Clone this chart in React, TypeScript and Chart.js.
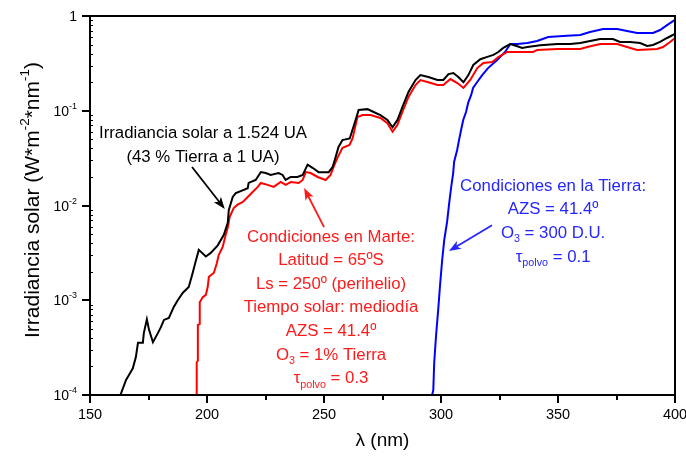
import React, { useEffect, useRef } from 'react';
import { Chart, registerables } from 'chart.js';

Chart.register(...registerables);

// ---- Data: [wavelength (nm), irradiance (W m^-2 nm^-1)] ----
const solarAt1524AU: [number, number][] = [
  [163.0, 1.0e-4], [165.4, 1.44e-4], [166.6, 1.62e-4], [168.3, 1.91e-4], [169.6, 2.51e-4],
  [170.5, 3.55e-4], [172.6, 3.55e-4], [173.0, 4.5e-4], [174.3, 6.3e-4], [175.2, 4.9e-4],
  [176.9, 3.6e-4], [179.0, 4.5e-4], [180.3, 5.2e-4], [181.6, 6.2e-4], [183.7, 6.5e-4],
  [185.8, 8.5e-4], [187.5, 1.0e-3], [189.7, 1.2e-3], [192.2, 1.38e-3], [193.9, 1.95e-3],
  [195.2, 2.6e-3], [196.5, 3.4e-3], [199.5, 2.9e-3], [201.6, 3.16e-3], [204.6, 3.8e-3],
  [207.2, 4.9e-3], [208.9, 6.6e-3], [209.3, 8.9e-3], [211.0, 1.23e-2], [212.3, 1.35e-2],
  [214.4, 1.42e-2], [217.4, 1.52e-2], [217.8, 1.73e-2], [220.8, 1.86e-2], [223.0, 2.25e-2],
  [225.1, 2.2e-2], [227.2, 2.1e-2], [230.6, 2.2e-2], [232.3, 2.1e-2], [233.6, 1.86e-2],
  [235.8, 2.0e-2], [238.7, 2.0e-2], [240.9, 2.1e-2], [243.0, 2.7e-2], [245.1, 2.5e-2],
  [247.7, 2.25e-2], [252.0, 2.25e-2], [253.7, 2.55e-2], [254.9, 3.2e-2], [256.2, 4.15e-2],
  [257.9, 4.9e-2], [261.0, 5.1e-2], [263.5, 7.96e-2], [264.8, 0.102], [268.6, 0.104],
  [271.2, 0.097], [274.1, 0.090], [277.1, 0.080], [279.3, 0.067], [281.4, 0.080],
  [283.5, 0.109], [286.1, 0.158], [289.1, 0.211], [291.2, 0.238], [294.6, 0.227],
  [298.5, 0.211], [301.0, 0.211], [303.2, 0.244], [305.3, 0.25], [307.4, 0.227],
  [309.6, 0.20], [311.7, 0.238], [313.8, 0.304], [316.8, 0.35], [319.8, 0.37],
  [322.4, 0.388], [324.5, 0.417], [326.6, 0.46], [329.6, 0.506], [332.6, 0.48],
  [334.7, 0.46], [336.9, 0.47], [342.4, 0.49], [349.7, 0.506], [355.2, 0.506],
  [359.5, 0.519], [363.7, 0.545], [368.0, 0.572], [373.5, 0.572], [376.5, 0.532],
  [380.8, 0.532], [385.1, 0.519], [388.1, 0.482], [390.6, 0.494], [393.6, 0.532],
  [396.6, 0.586], [399.1, 0.63], [400.0, 0.65],
];

const marsSurface: [number, number][] = [
  [195.6, 1.0e-4], [195.6, 2.2e-4], [196.1, 2.3e-4], [196.1, 5.5e-4], [196.9, 5.6e-4],
  [196.9, 9.5e-4], [198.2, 1.08e-3], [199.5, 1.14e-3], [200.3, 1.38e-3], [200.8, 1.77e-3],
  [202.9, 1.94e-3], [204.2, 2.46e-3], [205.0, 3.0e-3], [206.7, 3.65e-3], [208.0, 4.9e-3],
  [208.9, 5.9e-3], [209.7, 7.6e-3], [211.4, 9.4e-3], [213.1, 1.02e-2], [215.3, 1.09e-2],
  [217.4, 1.23e-2], [219.5, 1.39e-2], [221.7, 1.57e-2], [223.0, 1.73e-2], [225.9, 1.65e-2],
  [228.5, 1.57e-2], [231.5, 1.77e-2], [233.6, 1.65e-2], [235.8, 1.77e-2], [239.2, 1.73e-2],
  [240.9, 1.86e-2], [242.2, 2.25e-2], [244.3, 2.2e-2], [247.3, 2.0e-2], [250.7, 1.86e-2],
  [252.8, 2.1e-2], [254.1, 2.55e-2], [255.8, 3.2e-2], [257.9, 4.06e-2], [260.9, 4.35e-2],
  [262.2, 5.1e-2], [264.3, 0.086], [266.5, 0.090], [269.9, 0.090], [274.1, 0.084],
  [277.1, 0.074], [279.3, 0.060], [281.4, 0.071], [283.5, 0.097], [286.1, 0.14],
  [289.1, 0.187], [291.2, 0.211], [294.6, 0.20], [298.5, 0.187], [301.0, 0.187],
  [304.0, 0.216], [307.0, 0.196], [309.6, 0.174], [312.5, 0.211], [315.5, 0.282],
  [318.1, 0.319], [321.9, 0.327], [324.5, 0.369], [328.3, 0.417], [332.6, 0.417],
  [339.4, 0.417], [341.1, 0.438], [349.7, 0.449], [359.5, 0.449], [362.5, 0.471],
  [368.0, 0.506], [375.3, 0.506], [379.5, 0.471], [383.8, 0.438], [392.3, 0.449],
  [394.9, 0.471], [397.9, 0.532], [400.0, 0.586],
];

const earthSurface: [number, number][] = [
  [296.2, 1.0e-4], [296.7, 1.12e-4], [297.1, 2.2e-4], [297.9, 4.3e-4], [298.8, 7.9e-4],
  [299.6, 1.45e-3], [300.5, 2.66e-3], [301.4, 4.35e-3], [302.6, 6.7e-3], [303.5, 1.06e-2],
  [304.3, 1.53e-2], [305.2, 2.2e-2], [305.6, 2.88e-2], [306.9, 3.85e-2], [307.7, 4.9e-2],
  [308.6, 0.063], [309.5, 0.080], [310.7, 0.097], [311.6, 0.121], [312.9, 0.147],
  [313.7, 0.174], [315.4, 0.20], [317.6, 0.238], [320.1, 0.282], [324.0, 0.343],
  [327.4, 0.417], [329.6, 0.506], [332.6, 0.506], [336.9, 0.519], [341.1, 0.545],
  [345.8, 0.60], [352.2, 0.615], [359.5, 0.63], [363.7, 0.678], [369.3, 0.729],
  [375.3, 0.729], [379.5, 0.695], [383.8, 0.662], [390.6, 0.662], [393.6, 0.711],
  [396.6, 0.80], [400.0, 0.91],
];

const xMajorTicks = [150, 200, 250, 300, 350, 400];
const xMinorTicks = [175, 225, 275, 325, 375];
const yTickValues = [1, 1e-1, 1e-2, 1e-3, 1e-4];
const yTickLabels = ['1', '10^-1', '10^-2', '10^-3', '10^-4'];

const FONT = '"Liberation Sans", Arial, Helvetica, sans-serif';

type Seg = { t: string; s?: 'sub' | 'sup' };

const annotations: {
  color: string;
  x: number;
  y: number;
  gap: number;
  lines: Seg[][];
  arrow: { from: [number, number]; to: [number, number] };
}[] = [
  {
    color: '#000000',
    x: 198.3,
    y: 0.058,
    gap: 24,
    lines: [[{ t: 'Irradiancia solar a 1.524 UA' }], [{ t: '(43 % Tierra a 1 UA)' }]],
    arrow: { from: [193.6, 0.0255], to: [207.6, 0.0092] },
  },
  {
    color: '#ff1a1a',
    x: 253.0,
    y: 0.00465,
    gap: 23.6,
    lines: [
      [{ t: 'Condiciones en Marte:' }],
      [{ t: 'Latitud = 65ºS' }],
      [{ t: 'Ls = 250º (perihelio)' }],
      [{ t: 'Tiempo solar: mediodía' }],
      [{ t: 'AZS = 41.4º' }],
      [{ t: 'O' }, { t: '3', s: 'sub' }, { t: ' = 1% Tierra' }],
      [{ t: 'τ' }, { t: 'polvo', s: 'sub' }, { t: ' = 0.3' }],
    ],
    arrow: { from: [250.0, 0.0059], to: [241.5, 0.0153] },
  },
  {
    color: '#2626ff',
    x: 347.9,
    y: 0.0161,
    gap: 23.7,
    lines: [
      [{ t: 'Condiciones en la Tierra:' }],
      [{ t: 'AZS = 41.4º' }],
      [{ t: 'O' }, { t: '3', s: 'sub' }, { t: ' = 300 D.U.' }],
      [{ t: 'τ' }, { t: 'polvo', s: 'sub' }, { t: ' = 0.1' }],
    ],
    arrow: { from: [321.8, 0.0062], to: [303.4, 0.0033] },
  },
];

function drawRich(
  ctx: CanvasRenderingContext2D,
  segs: Seg[],
  x0: number,
  cy: number,
  size: number,
  color: string,
  align: 'center' | 'right' | 'left'
) {
  let w = 0;
  const parts = segs.map((seg) => {
    const fs = seg.s ? size * 0.64 : size;
    ctx.font = `${fs}px ${FONT}`;
    const mw = ctx.measureText(seg.t).width;
    w += mw;
    return { seg, fs, mw };
  });
  let x = align === 'center' ? x0 - w / 2 : align === 'right' ? x0 - w : x0;
  ctx.fillStyle = color;
  ctx.textBaseline = 'middle';
  ctx.textAlign = 'left';
  for (const p of parts) {
    ctx.font = `${p.fs}px ${FONT}`;
    const dy = p.seg.s === 'sub' ? size * 0.36 : p.seg.s === 'sup' ? -size * 0.38 : 0;
    ctx.fillText(p.seg.t, x, cy + dy);
    x += p.mw;
  }
}

function drawArrow(ctx: CanvasRenderingContext2D, x1: number, y1: number, x2: number, y2: number, color: string) {
  const ang = Math.atan2(y2 - y1, x2 - x1);
  const hl = 12;
  const hw = 4.5;
  const c = Math.cos(ang);
  const s = Math.sin(ang);
  ctx.strokeStyle = color;
  ctx.fillStyle = color;
  ctx.lineWidth = 1.8;
  ctx.beginPath();
  ctx.moveTo(x1, y1);
  ctx.lineTo(x2 - hl * 0.7 * c, y2 - hl * 0.7 * s);
  ctx.stroke();
  ctx.beginPath();
  ctx.moveTo(x2, y2);
  ctx.lineTo(x2 - hl * c + hw * s, y2 - hl * s - hw * c);
  ctx.lineTo(x2 - hl * 0.75 * c, y2 - hl * 0.75 * s);
  ctx.lineTo(x2 - hl * c - hw * s, y2 - hl * s + hw * c);
  ctx.closePath();
  ctx.fill();
}

function parseTickLabel(label: string): Seg[] {
  const i = label.indexOf('^');
  if (i < 0) return [{ t: label }];
  return [{ t: label.slice(0, i) }, { t: label.slice(i + 1), s: 'sup' }];
}

const overlayPlugin = {
  id: 'overlay',
  afterDraw(chart: any) {
    const { ctx, chartArea: a } = chart;
    const xs = chart.scales.x;
    const ys = chart.scales.y;
    ctx.save();

    // frame
    ctx.strokeStyle = '#000';
    ctx.lineWidth = 2;
    ctx.strokeRect(a.left, a.top, a.right - a.left, a.bottom - a.top);

    // x ticks (outward)
    ctx.lineWidth = 2;
    for (const v of xMajorTicks) {
      const px = Math.round(xs.getPixelForValue(v));
      ctx.beginPath();
      ctx.moveTo(px, a.bottom);
      ctx.lineTo(px, a.bottom + 8);
      ctx.stroke();
    }
    for (const v of xMinorTicks) {
      const px = Math.round(xs.getPixelForValue(v));
      ctx.beginPath();
      ctx.moveTo(px, a.bottom);
      ctx.lineTo(px, a.bottom + 5);
      ctx.stroke();
    }

    // y major ticks (outward) + labels
    yTickValues.forEach((v, i) => {
      const py = Math.round(ys.getPixelForValue(v));
      ctx.lineWidth = 2;
      ctx.strokeStyle = '#000';
      ctx.beginPath();
      ctx.moveTo(a.left - 8, py);
      ctx.lineTo(a.left, py);
      ctx.stroke();
      drawRich(ctx, parseTickLabel(yTickLabels[i]), a.left - 13, py + 1, 14, '#000', 'right');
    });
    // y minor ticks (inward)
    ctx.lineWidth = 1;
    ctx.strokeStyle = '#000';
    for (let e = -4; e < 0; e++) {
      for (let m = 2; m <= 9; m++) {
        const py = Math.round(ys.getPixelForValue(m * Math.pow(10, e))) + 0.5;
        ctx.beginPath();
        ctx.moveTo(a.left, py);
        ctx.lineTo(a.left + 3, py);
        ctx.stroke();
      }
    }

    // axis titles
    drawRich(ctx, [{ t: 'λ (nm)' }], (a.left + a.right) / 2, 441, 19, '#000', 'center');
    ctx.save();
    ctx.translate(33, 200);
    ctx.rotate(-Math.PI / 2);
    drawRich(
      ctx,
      [
        { t: 'Irradiancia solar (W*m' },
        { t: '-2', s: 'sup' },
        { t: '*nm' },
        { t: '-1', s: 'sup' },
        { t: ')' },
      ],
      0,
      0,
      21,
      '#000',
      'center'
    );
    ctx.restore();

    // annotations
    for (const an of annotations) {
      const cx = xs.getPixelForValue(an.x);
      const cy = ys.getPixelForValue(an.y);
      an.lines.forEach((line, i) => {
        drawRich(ctx, line, cx, cy + i * an.gap, 16.8, an.color, 'center');
      });
      const ax1 = xs.getPixelForValue(an.arrow.from[0]);
      const ay1 = ys.getPixelForValue(an.arrow.from[1]);
      const ax2 = xs.getPixelForValue(an.arrow.to[0]);
      const ay2 = ys.getPixelForValue(an.arrow.to[1]);
      drawArrow(ctx, ax1, ay1, ax2, ay2, an.color);
    }
    ctx.restore();
  },
};

const toPoints = (arr: [number, number][]) => arr.map(([x, y]) => ({ x, y }));

export default function App() {
  const ref = useRef<HTMLCanvasElement | null>(null);

  useEffect(() => {
    document.body.style.margin = '0';
    if (!ref.current) return;
    Chart.defaults.font.family = FONT;
    const chart = new Chart(ref.current, {
      type: 'line',
      data: {
        datasets: [
          { label: 'Solar 1.524 UA', data: toPoints(solarAt1524AU), borderColor: '#000000' },
          { label: 'Marte', data: toPoints(marsSurface), borderColor: '#ff0000' },
          { label: 'Tierra', data: toPoints(earthSurface), borderColor: '#0000ff' },
        ],
      },
      options: {
        animation: false,
        responsive: false,
        devicePixelRatio: 1,
        datasets: { line: { borderWidth: 2, pointRadius: 0, tension: 0, fill: false } } as any,
        layout: { padding: { top: 16, right: 11, left: 0, bottom: 0 } },
        plugins: { legend: { display: false }, tooltip: { enabled: false } },
        scales: {
          x: {
            type: 'linear',
            min: 150,
            max: 400,
            grid: { display: false, drawTicks: false },
            border: { display: false },
            ticks: { stepSize: 50, padding: 11, color: '#000', font: { size: 14.5 } },
            afterFit: (s: any) => {
              s.height = 63;
              s.paddingLeft = 0;
              s.paddingRight = 0;
            },
          },
          y: {
            type: 'logarithmic',
            min: 1e-4,
            max: 1,
            grid: { display: false, drawTicks: false },
            border: { display: false },
            ticks: { display: false },
            afterFit: (s: any) => {
              s.width = 90;
            },
          },
        },
      },
      plugins: [overlayPlugin],
    });
    return () => chart.destroy();
  }, []);

  return (
    <div style={{ width: 686, height: 458 }}>
      <canvas ref={ref} width={686} height={458} style={{ display: 'block' }} />
    </div>
  );
}
